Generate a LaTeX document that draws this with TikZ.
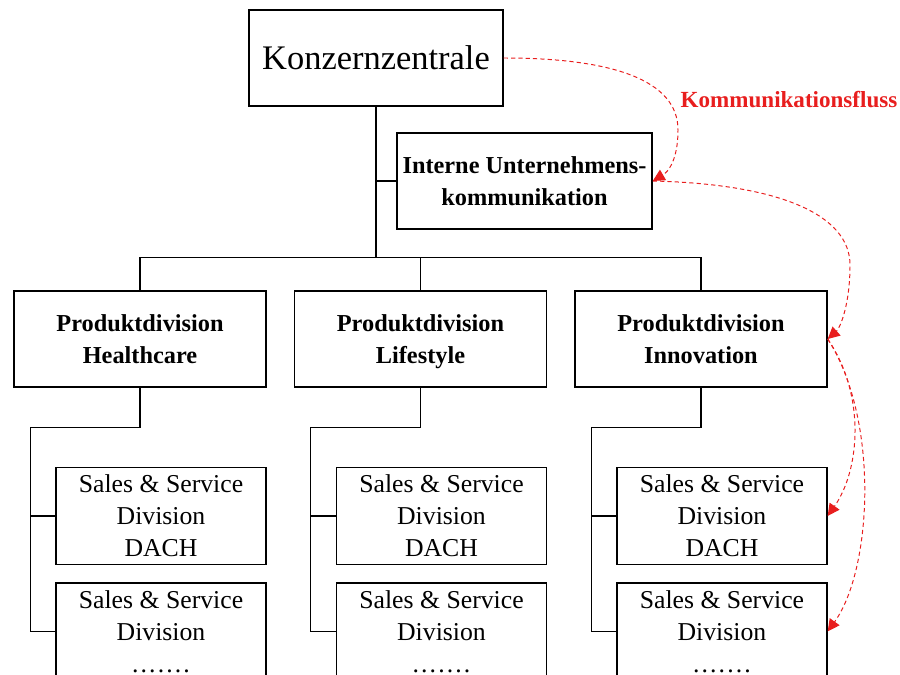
\documentclass[tikz,border=0pt]{standalone}
\usepackage{fontspec}
\setmainfont{Liberation Serif}
\usetikzlibrary{arrows.meta,calc,positioning}
\definecolor{kommrot}{RGB}{232,30,30}
\tikzset{box/.style={draw,rectangle,align=center,inner sep=2pt}}
\tikzstyle{zentrale}=[box, minimum width=6.35cm, minimum height=2.4cm, font=\fontsize{24.5}{30}\selectfont]
\tikzstyle{division}=[box, minimum width=6.3cm, minimum height=2.4cm, font=\fontsize{17.3}{22.8}\selectfont\bfseries, text depth=0pt]
\tikzstyle{sales}=[box, minimum width=5.25cm, minimum height=2.425cm, font=\fontsize{18.3}{22.8}\selectfont]
\tikzstyle{komm}=[draw=kommrot, dash pattern=on 3pt off 2.2pt, line width=0.7pt, -{Triangle[length=8.5pt,width=8.5pt,fill=kommrot]}]

\begin{document}
\begin{tikzpicture}[x=0.025cm, y=-0.025cm, line width=1pt]
\clip (0,0) rectangle (900,675);
% Zentrale und Stabsstelle
\node[zentrale] (kz) at (376,58) {Konzernzentrale};
\node[division, minimum width=6.375cm] (ik) at (524.5,181) {Interne Unternehmens-\\kommunikation};
% Produktdivisionen
\node[division] (hc) at (140,339) {Produktdivision\\Healthcare};
\node[division][right=0.675cm of hc] (ls) {Produktdivision\\Lifestyle};
\node[division][right=0.675cm of ls] (inno) {Produktdivision\\Innovation};
% Sales & Service
\node[sales][below left=1.975cm and 0cm of hc.south east] (hc1) {Sales \& Service\\Division\\DACH};
\node[sales][below=0.425cm of hc1] (hc2) {Sales \& Service\\Division\\.\kern1.5pt.\kern1.5pt.\kern1.5pt.\kern1.5pt.\kern1.5pt.\kern1.5pt.};
\node[sales][below left=1.975cm and 0cm of ls.south east] (ls1) {Sales \& Service\\Division\\DACH};
\node[sales][below=0.425cm of ls1] (ls2) {Sales \& Service\\Division\\.\kern1.5pt.\kern1.5pt.\kern1.5pt.\kern1.5pt.\kern1.5pt.\kern1.5pt.};
\node[sales][below left=1.975cm and 0cm of inno.south east] (in1) {Sales \& Service\\Division\\DACH};
\node[sales][below=0.425cm of in1] (in2) {Sales \& Service\\Division\\.\kern1.5pt.\kern1.5pt.\kern1.5pt.\kern1.5pt.\kern1.5pt.\kern1.5pt.};

\coordinate (bus) at ($(kz.south)+(0,151)$);
\draw (kz.south) -- (bus);
\draw (hc.north) |- (bus) -| (inno.north);
\draw (ls.north) -- (ls.north |- bus);
\draw (ik.west) -- (ik.west -| bus);

\coordinate (hcs) at ($(hc.south west)+(17,40)$);
\draw (hc.south) |- (hcs) |- (hc2.west);
\draw (hcs |- hc1.west) -- (hc1.west);
\coordinate (lss) at ($(ls.south west)+(17,40)$);
\draw (ls.south) |- (lss) |- (ls2.west);
\draw (lss |- ls1.west) -- (ls1.west);
\coordinate (ins) at ($(inno.south west)+(17,40)$);
\draw (inno.south) |- (ins) |- (in2.west);
\draw (ins |- in1.west) -- (in1.west);

% Kommunikationsfluss
\node[anchor=west, inner sep=0pt, text=kommrot, font=\fontsize{16.4}{20}\selectfont\bfseries] (kf) at (680,100) {Kommunikationsfluss};
\path[komm] (kz.east) .. controls (612,58) and (678,80) .. (678,130) .. controls (678,160) and (668,172) .. (ik.east);
\path[komm] (ik.east) .. controls (780,184) and (850,215) .. (850,265) .. controls (850,305) and (840,328) .. (inno.east);
\path[komm] (inno.east) .. controls (866,395) and (860,470) .. (in1.east);
\path[komm] (inno.east) .. controls (880,420) and (872,570) .. (in2.east);
\end{tikzpicture}
\end{document}
